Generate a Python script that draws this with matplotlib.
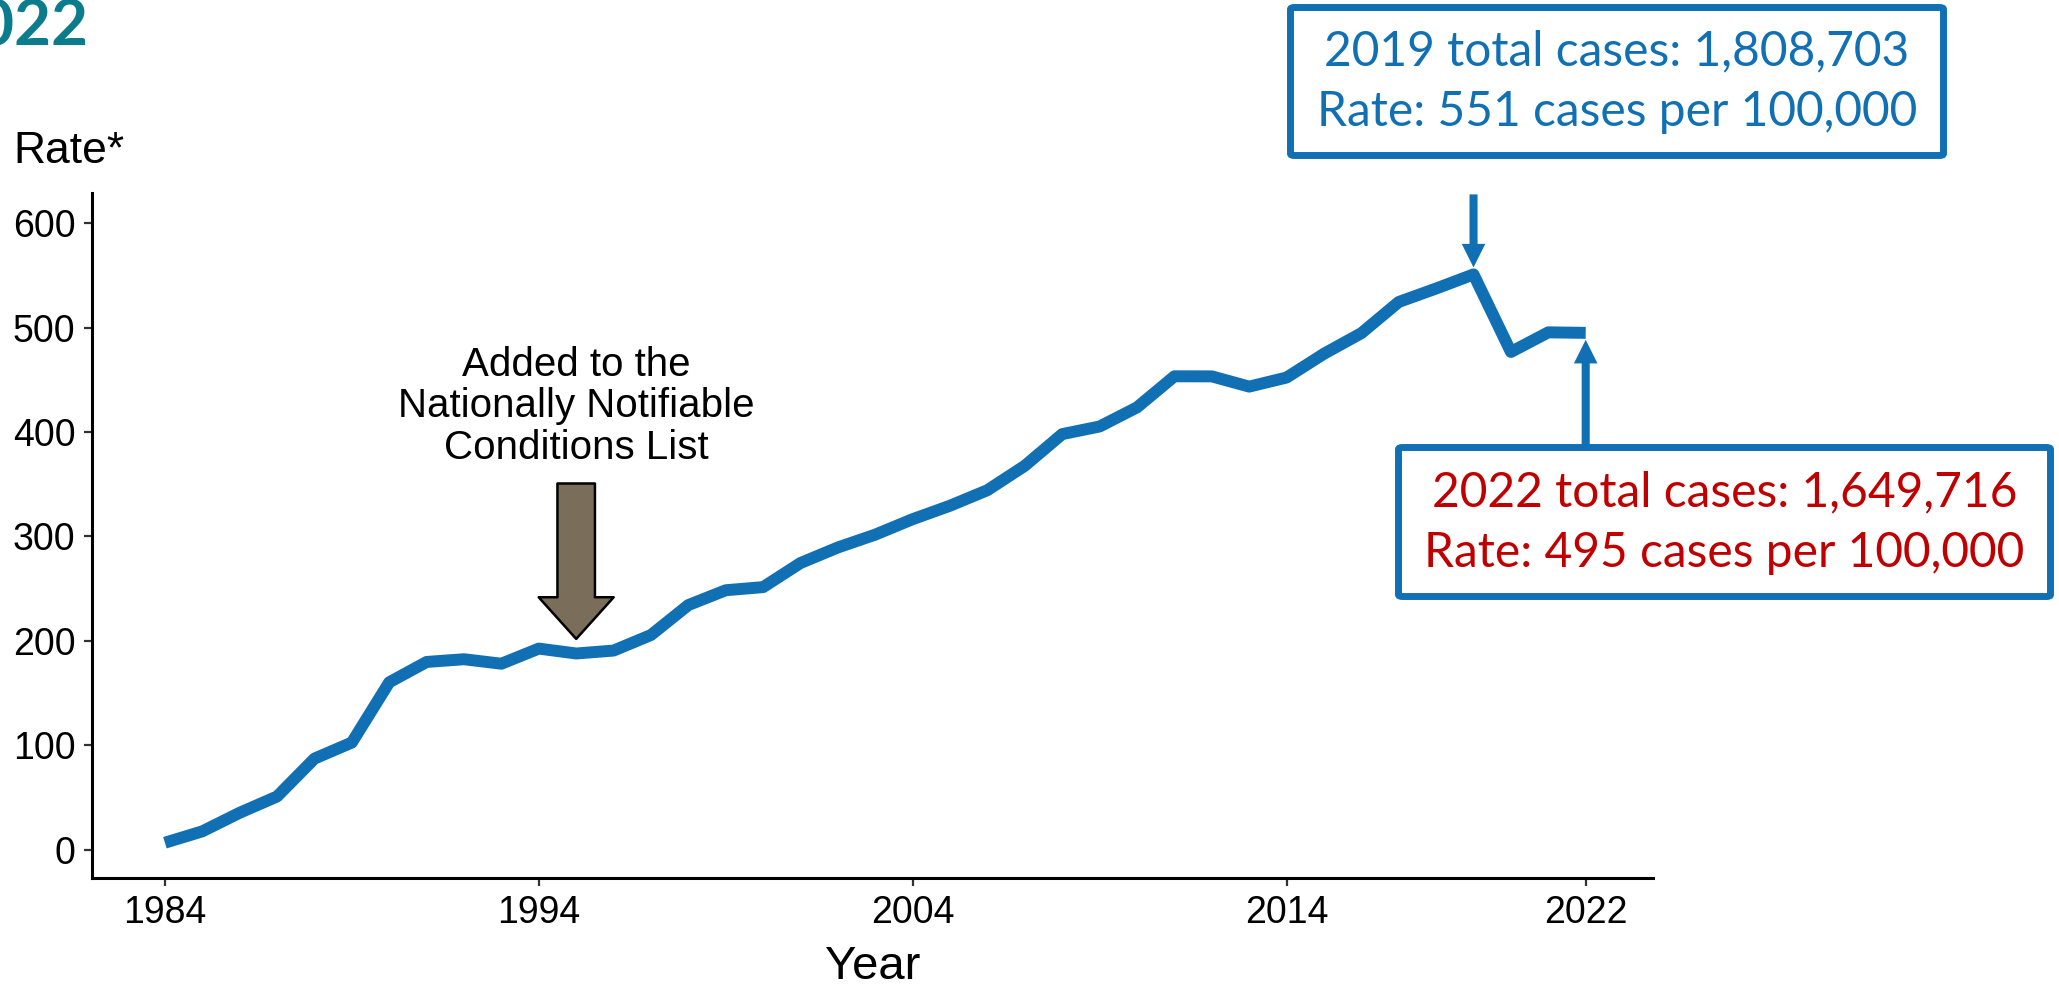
import matplotlib.pyplot as plt
from matplotlib.patches import FancyBboxPatch

# ---------------------
# data: reported rate per 100,000 by year
# ---------------------
years = list(range(1984, 2023))
rates = [6.5, 17.4, 35.2, 50.8, 87.1, 102.5, 160.2, 179.7, 182.3, 178.0,
         192.5, 187.8, 190.6, 205.5, 234.2, 248.4, 251.4, 274.5, 289.4, 301.7,
         316.5, 329.4, 344.3, 367.7, 398.0, 405.3, 423.6, 453.4, 453.3, 443.5,
         452.2, 475.0, 494.7, 524.6, 537.5, 551.0, 476.7, 495.5, 495.0]

x_ticks = [1984, 1994, 2004, 2014, 2022]
y_ticks = [0, 100, 200, 300, 400, 500, 600]

notifiable_year = 1995
peak_year, peak_cases, peak_rate = 2019, "1,808,703", 551
last_year, last_cases, last_rate = 2022, "1,649,716", 495

BLUE = "#1170B4"
RED = "#C00000"
TEAL = "#0B7C8B"

plt.rcParams["font.family"] = ["Liberation Sans", "DejaVu Sans"]

W, H = 2059, 988
fig = plt.figure(figsize=(W / 100, H / 100), dpi=100)
ax = fig.add_axes([92 / W, 1 - 878 / H, (1653 - 92) / W, (878 - 193) / H])

ax.plot(years, rates, color=BLUE, lw=8.6, solid_capstyle="butt",
        solid_joinstyle="round", zorder=3)

ax.set_xlim(1982.05, 2023.8)
ax.set_ylim(-27.3, 629)
ax.set_xticks(x_ticks)
ax.set_yticks(y_ticks)
ax.tick_params(labelsize=27, length=6, width=1.6, color="#333333", pad=6)
for side in ["top", "right"]:
    ax.spines[side].set_visible(False)
for side in ["left", "bottom"]:
    ax.spines[side].set_linewidth(2.2)
ax.set_xlabel("Year", fontsize=34, labelpad=10)
fig.text(13 / W, 1 - 163 / H, "Rate*", fontsize=32, ha="left", va="baseline")

# title remnant at the top-left corner
fig.text(89 / W, 1 - 46 / H, "2022", fontsize=46, fontweight="bold",
         family="Lato", color=TEAL, ha="right", va="baseline")

# ---------------------
# surveillance note arrow
# ---------------------
i95 = years.index(notifiable_year)
ax.annotate("", xy=(notifiable_year, rates[i95]), xycoords="data",
            xytext=(0, 170), textcoords="offset pixels",
            arrowprops=dict(arrowstyle="simple,head_width=54,head_length=30,tail_width=27",
                            mutation_scale=1, fc="#7A6D5A", ec="black", lw=1.8,
                            shrinkA=0, shrinkB=10.5), zorder=4)
ax.annotate("Added to the\nNationally Notifiable\nConditions List",
            xy=(notifiable_year, rates[i95]), xycoords="data",
            xytext=(0, 247), textcoords="offset pixels",
            ha="center", va="center", fontsize=29, linespacing=1.12)

# ---------------------
# callout arrows
# ---------------------
ip = years.index(peak_year)
ax.annotate("", xy=(peak_year, rates[ip]), xycoords="data",
            xytext=(0, 80), textcoords="offset pixels",
            arrowprops=dict(arrowstyle="simple,head_width=17,head_length=17,tail_width=5.8",
                            mutation_scale=1, fc=BLUE, ec="none",
                            shrinkA=0, shrinkB=5), zorder=4)
il = years.index(last_year)
ax.annotate("", xy=(last_year, rates[il]), xycoords="data",
            xytext=(0, -112), textcoords="offset pixels",
            arrowprops=dict(arrowstyle="simple,head_width=17,head_length=17,tail_width=5.8",
                            mutation_scale=1, fc=BLUE, ec="none",
                            shrinkA=0, shrinkB=5), zorder=4)


def callout(x0, y0, x1, y1, lines, color):
    # box given in pixel coords from the top-left corner
    box = FancyBboxPatch((x0 / W, 1 - y1 / H), (x1 - x0) / W, (y1 - y0) / H,
                         boxstyle="round,pad=0,rounding_size=0.002",
                         transform=fig.transFigure, fc="white", ec=BLUE, lw=5)
    fig.patches.append(box)
    cx = (x0 + x1) / 2
    cy = (y0 + y1) / 2
    fig.text(cx / W, 1 - (cy - 30) / H, lines[0], fontsize=34.5, family="Lato",
             color=color, ha="center", va="center")
    fig.text(cx / W, 1 - (cy + 31) / H, lines[1], fontsize=34.5, family="Lato",
             color=color, ha="center", va="center")


callout(1290.5, 7.5, 1943.5, 155.5,
        [f"{peak_year} total cases: {peak_cases}",
         f"Rate: {peak_rate} cases per 100,000"], BLUE)
callout(1398.5, 447.5, 2050.5, 596.5,
        [f"{last_year} total cases: {last_cases}",
         f"Rate: {last_rate} cases per 100,000"], RED)

fig.savefig("out.png", dpi=100)
